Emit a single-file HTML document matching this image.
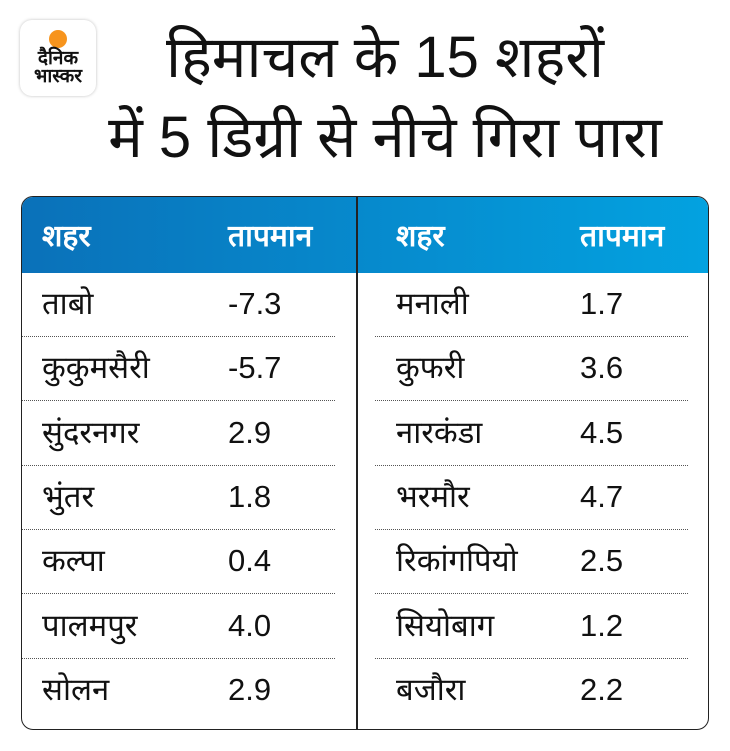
<!DOCTYPE html>
<html><head><meta charset="utf-8"><style>
body{margin:0;width:730px;height:751px;background:#fff;position:relative;overflow:hidden;font-family:"Liberation Sans",sans-serif;color:#111}
.logo{position:absolute;left:20px;top:20px;width:76px;height:76px;border-radius:12px;background:#fff;box-shadow:0 0 3px rgba(0,0,0,.25)}
.logo .dot{position:absolute;left:29px;top:10px;width:18px;height:18px;border-radius:50%;background:#f7941d}
.logo .t{position:absolute;left:0;width:76px;text-align:center;font-weight:bold;font-size:19px;line-height:18px;top:30px}
.title{position:absolute;left:70px;width:630px;text-align:center;font-size:58px;line-height:80px;top:18px}
.tbl{position:absolute;left:21px;top:196px;width:686px;height:532px;border:1.5px solid #222;border-radius:12px;overflow:hidden}
.hdr{position:absolute;left:0;top:0;width:100%;height:76px;background:linear-gradient(90deg,#0a71b9,#03a2e0)}
.div{position:absolute;left:334px;top:0;width:1.5px;height:100%;background:#222}
.c{position:absolute;font-size:31px;line-height:40px}
.h{color:#fff;font-weight:bold;font-size:30px}
.sep{position:absolute;height:0;border-top:1.5px dotted #555}
</style></head><body>
<div class="logo"><div class="dot"></div><div class="t">दैनिक<br>भास्कर</div></div>
<div class="title">हिमाचल के 15 शहरों<br>में 5 डिग्री से नीचे गिरा पारा</div>
<div class="tbl">
<div class="hdr"></div><div class="div"></div>
<div class="c h" style="left:20px;top:20px">शहर</div>
<div class="c h" style="left:206px;top:20px">तापमान</div>
<div class="c h" style="left:374px;top:20px">शहर</div>
<div class="c h" style="left:558px;top:20px">तापमान</div>
</div>
<div id="rows"></div>
<script>
var L=[["ताबो","-7.3"],["कुकुमसैरी","-5.7"],["सुंदरनगर","2.9"],["भुंतर","1.8"],["कल्पा","0.4"],["पालमपुर","4.0"],["सोलन","2.9"]];
var R=[["मनाली","1.7"],["कुफरी","3.6"],["नारकंडा","4.5"],["भरमौर","4.7"],["रिकांगपियो","2.5"],["सियोबाग","1.2"],["बजौरा","2.2"]];
var h="";
for(var i=0;i<7;i++){var y=284+i*64.3;
h+='<div class="c" style="left:42px;top:'+y+'px">'+L[i][0]+'</div><div class="c" style="left:228px;top:'+y+'px">'+L[i][1]+'</div>';
h+='<div class="c" style="left:396px;top:'+y+'px">'+R[i][0]+'</div><div class="c" style="left:580px;top:'+y+'px">'+R[i][1]+'</div>';
if(i<6){var s=336+i*64.3;h+='<div class="sep" style="left:22px;width:313px;top:'+s+'px"></div><div class="sep" style="left:375px;width:313px;top:'+s+'px"></div>';}}
document.getElementById("rows").innerHTML=h;
</script>
</body></html>
